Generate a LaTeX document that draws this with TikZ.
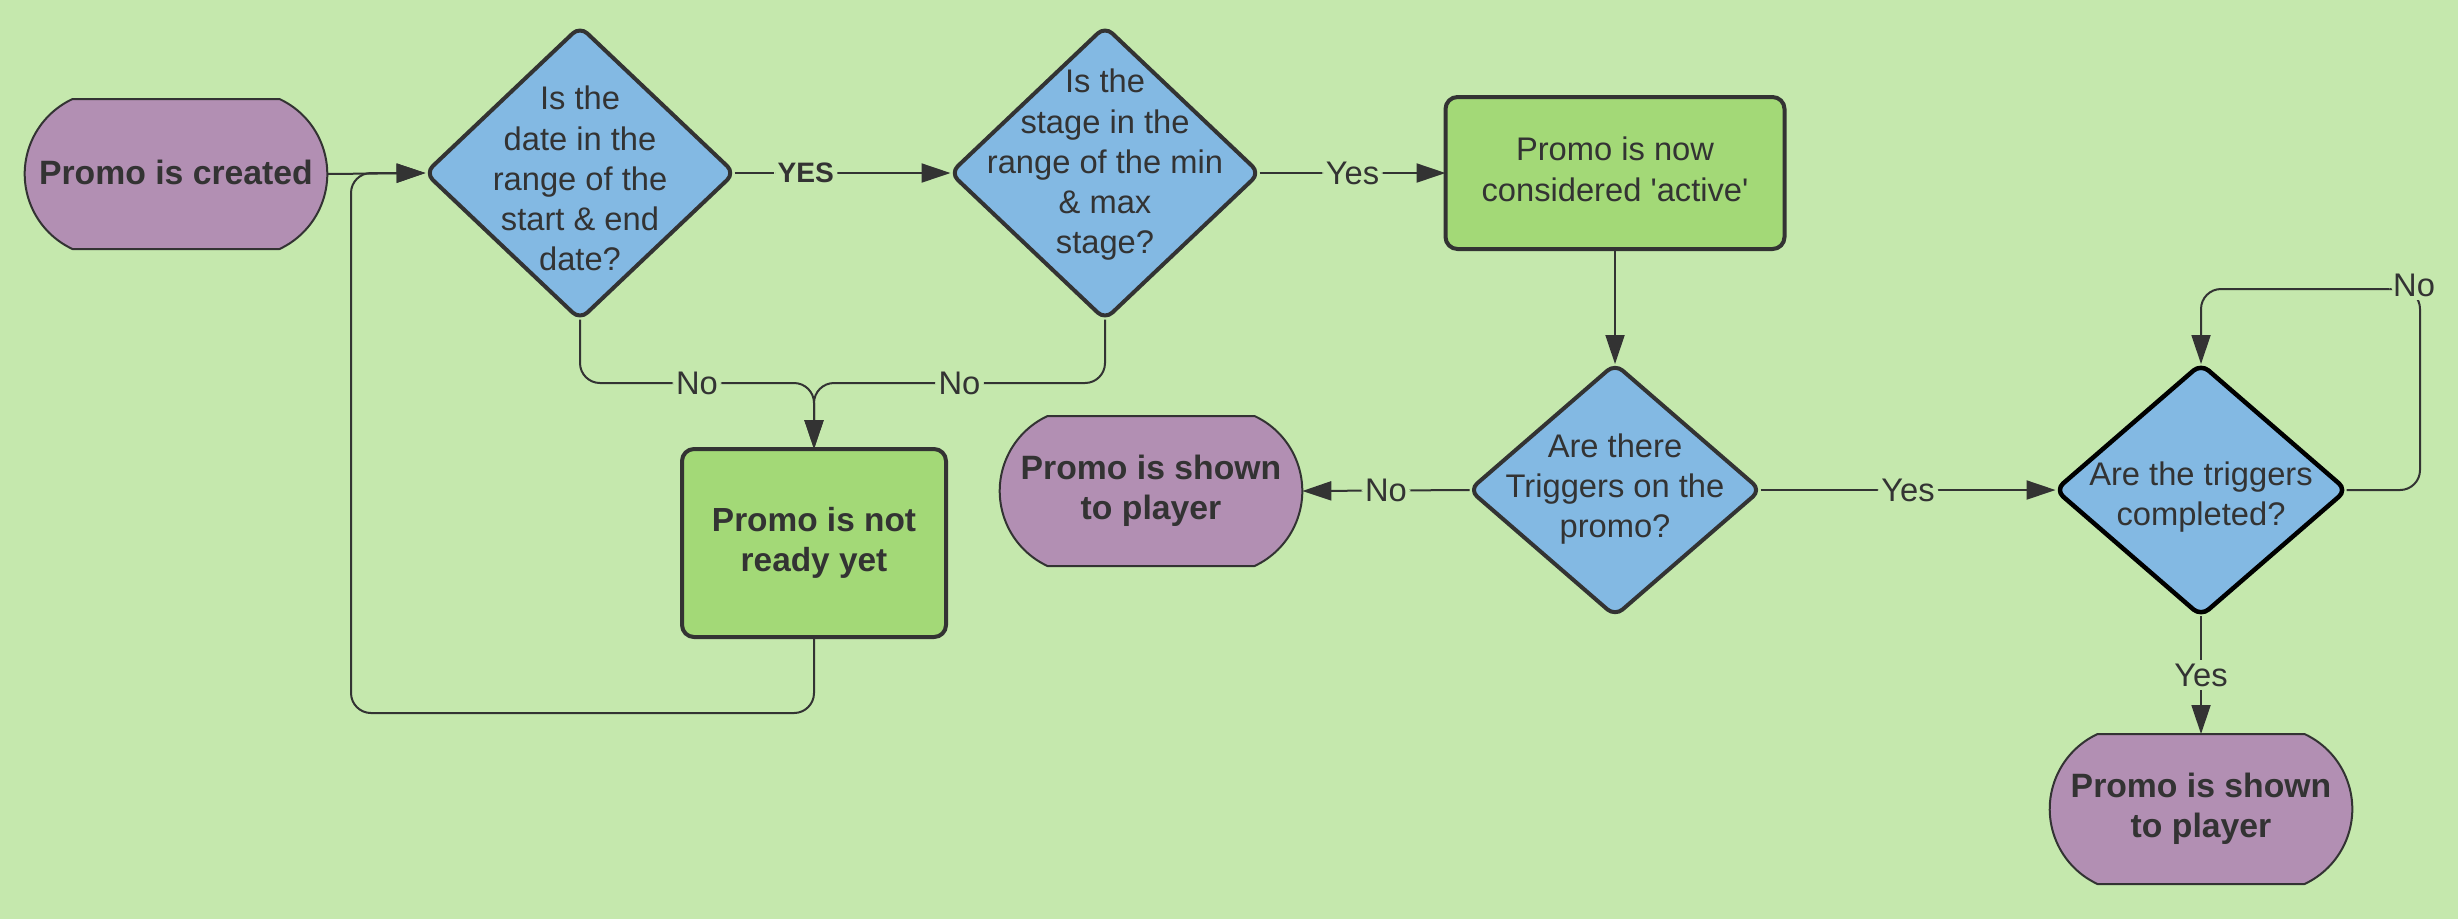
\documentclass[tikz,border=0pt]{standalone}
\usepackage{fontspec}
\setmainfont{Liberation Sans}
\usepackage{tikz}
\usetikzlibrary{arrows.meta,shapes.geometric,shapes.misc}
\definecolor{bgcol}{RGB}{197,232,173}
\definecolor{qblue}{RGB}{131,185,227}
\definecolor{boxgreen}{RGB}{163,217,119}
\definecolor{endpurple}{RGB}{178,143,179}
\definecolor{ink}{RGB}{51,51,51}
% text that does not change the size of a diamond
\newcommand{\qtxt}[2][0mm]{\makebox[0pt]{\smash{\raisebox{#1}{\begin{tabular}{@{}c@{}}#2\end{tabular}}}}}

\begin{document}
\begin{tikzpicture}[x=0.1mm,y=-0.1mm, line join=round, >={Triangle[length=2.9mm,width=1.9mm]},
    every node/.style={font=\fontsize{9.3}{11.4}\selectfont, text=ink},
    question/.style={diamond, draw=ink, line width=0.4mm, fill=qblue, rounded corners=1mm,
        inner sep=0pt, outer sep=0pt, minimum width=30.9mm, minimum height=29.3mm},
    task/.style={rectangle, draw=ink, line width=0.4mm, fill=boxgreen, rounded corners=1.2mm,
        align=center, outer sep=0pt},
    terminal/.style={rounded rectangle, rounded rectangle arc length=130, draw=ink, line width=0.2mm,
        fill=endpurple, align=center, outer sep=0pt, minimum width=32.6mm, minimum height=15mm,
        font=\fontsize{9.6}{11.4}\selectfont\bfseries},
    conn/.style={->, draw=ink, line width=0.2mm, rounded corners=2mm},
    lbl/.style={fill=bgcol, inner sep=1pt},
    lblbold/.style={lbl, font=\fontsize{8}{10}\selectfont\bfseries}]
    % frame
    \useasboundingbox (0,0) rectangle (2458,919);
    \fill[bgcol] (0,0) rectangle (2458,919);
    % nodes
    \node[terminal] (start) at (176,174) {\raisebox{0.4mm}{Promo is created}};
    \node[question] (d1) at (580,173) {\qtxt[-1.7mm]{Is the\\date in the\\range of the\\start \& end\\date?}};
    \node[question] (d2) at (1105,173) {\qtxt{Is the\\stage in the\\range of the min\\\& max\\stage?}};
    \node[task, minimum width=33.9mm, minimum height=15.2mm] (active) at (1615,173) {\raisebox{0.5mm}{\begin{tabular}{@{}c@{}}Promo is now\\considered {\textquotesingle}active{\textquotesingle}\end{tabular}}};
    \node[task, minimum width=26.4mm, minimum height=18.8mm, font=\fontsize{9.5}{11.4}\selectfont\bfseries] (notready) at (814,543) {Promo is not\\ready yet};
    \node[question, minimum width=29.1mm, minimum height=25.2mm] (d3) at (1615,490) {\qtxt[-0.7mm]{Are there\\Triggers on the\\promo?}};
    \node[question, draw=black, line width=0.45mm, minimum width=29.1mm, minimum height=25.2mm] (d4) at (2201,490) {\qtxt[-1.5mm]{Are the triggers\\completed?}};
    \node[terminal] (shown1) at (1151,491) {Promo is shown\\to player};
    \node[terminal] (shown2) at (2201,809) {Promo is shown\\to player};
    \coordinate (nomerge) at (814,383);
    \coordinate (backcorner) at (351,713);
    \coordinate (retry) at (2420,289);
    % connectors
    \draw[conn] (start.east) -- (d1.west);
    \draw[conn] (d1.east) -- node[lblbold, pos=0.33] {YES} (d2.west);
    \draw[conn] (d2.east) -- node[lbl] {Yes} (active.west);
    \draw[conn] (active.south) -- (d3.north);
    \draw[conn] (d3.west) -- node[lbl] {No} (shown1.east);
    \draw[conn] (d3.east) -- node[lbl] {Yes} (d4.west);
    \draw[conn] (d4.south) -- node[lbl] {Yes} (shown2.north);
    \draw[conn] (d4.east) -| (retry) node[lbl, xshift=-0.6mm, yshift=0.4mm] {No} -| (d4.north);
    \draw[conn] (d1.south) |- node[lbl, pos=0.75] {No} (nomerge) -- (notready.north);
    \draw[conn] (d2.south) |- node[lbl, pos=0.75] {No} (nomerge) -- (notready.north);
    \draw[conn] (notready.south) |- (backcorner) |- (d1.west);
\end{tikzpicture}
\end{document}
